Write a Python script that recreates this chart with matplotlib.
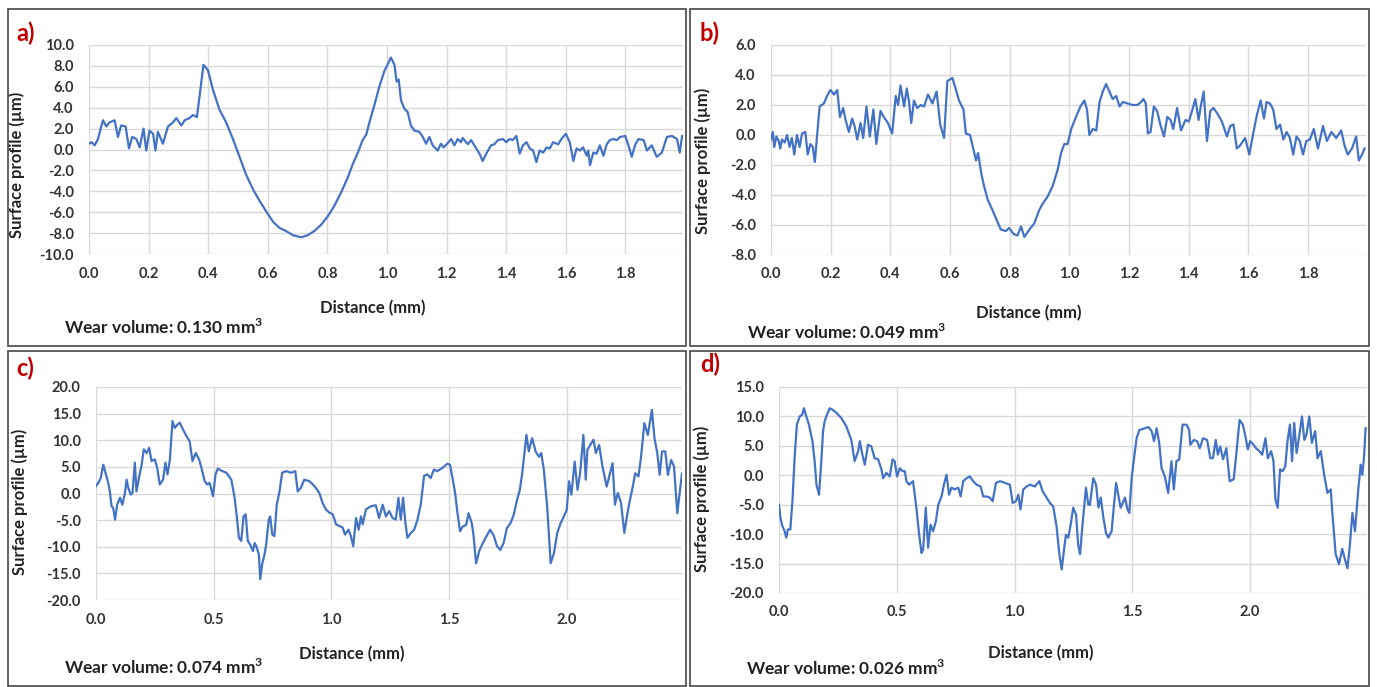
import matplotlib
matplotlib.use("Agg")
import matplotlib.pyplot as plt
from matplotlib.patches import Rectangle

# ---- data ----
# a)
dist_a = [0.000, 0.008, 0.019, 0.030, 0.041, 0.047, 0.058, 0.069, 0.086, 0.097,
          0.108, 0.123, 0.134, 0.145, 0.159, 0.170, 0.183, 0.192, 0.203, 0.215,
          0.223, 0.231, 0.248, 0.265, 0.282, 0.293, 0.310, 0.321, 0.337, 0.349,
          0.362, 0.371, 0.384, 0.399, 0.416, 0.438, 0.460, 0.483, 0.505, 0.527,
          0.550, 0.572, 0.594, 0.617, 0.639, 0.661, 0.684, 0.712, 0.734, 0.756,
          0.779, 0.801, 0.823, 0.846, 0.868, 0.885, 0.902, 0.918, 0.930, 0.941,
          0.958, 0.974, 0.991, 1.013, 1.025, 1.032, 1.039, 1.047, 1.058, 1.069,
          1.080, 1.092, 1.108, 1.120, 1.131, 1.142, 1.153, 1.170, 1.181, 1.190,
          1.200, 1.215, 1.226, 1.237, 1.248, 1.254, 1.271, 1.282, 1.299, 1.310,
          1.321, 1.333, 1.349, 1.360, 1.372, 1.389, 1.400, 1.411, 1.422, 1.434,
          1.445, 1.456, 1.468, 1.479, 1.490, 1.501, 1.512, 1.524, 1.535, 1.546,
          1.557, 1.574, 1.585, 1.600, 1.613, 1.625, 1.636, 1.647, 1.658, 1.670,
          1.675, 1.681, 1.692, 1.703, 1.714, 1.726, 1.737, 1.748, 1.759, 1.771,
          1.782, 1.799, 1.810, 1.821, 1.833, 1.844, 1.861, 1.872, 1.888, 1.905,
          1.922, 1.939, 1.956, 1.973, 1.982, 1.990]
prof_a = [0.55, 0.7, 0.4, 1.0, 2.2, 2.8, 2.2, 2.6, 2.8, 1.2,
          2.3, 2.2, 0.1, 1.2, 1.0, 0.2, 2.0, -0.1, 1.8, 1.5,
          -0.1, 1.7, 0.55, 2.2, 2.6, 3.0, 2.3, 2.8, 3.0, 3.3,
          3.1, 5.1, 8.1, 7.6, 5.7, 3.8, 2.6, 1.0, -0.7, -2.4,
          -3.8, -4.9, -5.9, -6.9, -7.5, -7.8, -8.2, -8.4, -8.2, -7.8,
          -7.2, -6.4, -5.4, -4.1, -2.7, -1.4, -0.3, 0.9, 1.4, 2.6,
          4.3, 6.0, 7.5, 8.8, 8.1, 6.5, 6.7, 4.7, 3.9, 3.6,
          2.3, 1.8, 1.7, 1.2, 0.55, 1.2, 0.4, -0.1, 0.55, 0.2,
          0.5, 1.0, 0.4, 1.0, 0.7, 1.1, 0.5, 0.9, 0.1, -0.4,
          -1.1, -0.4, 0.4, 0.5, 0.9, 1.0, 0.7, 1.0, 0.9, 1.3,
          -0.4, 0.4, 0.7, 0.1, -0.1, -1.2, -0.1, -0.3, 0.2, 0.1,
          0.7, 0.5, 1.0, 1.5, 0.7, -1.1, 0.1, -0.1, 0.2, -0.6,
          -0.1, -1.5, -0.3, -0.4, 0.4, -0.6, 0.5, 0.9, 1.0, 0.9,
          1.2, 1.3, 0.4, -0.7, 0.5, 1.0, 0.9, -0.1, 0.4, -0.7,
          -0.3, 1.2, 1.3, 1.0, -0.3, 1.3]

# b)
dist_b = [0.000, 0.006, 0.011, 0.018, 0.026, 0.031, 0.037, 0.046, 0.054, 0.062,
          0.070, 0.078, 0.087, 0.096, 0.104, 0.115, 0.123, 0.132, 0.140, 0.147,
          0.155, 0.163, 0.177, 0.188, 0.199, 0.211, 0.222, 0.231, 0.242, 0.250,
          0.261, 0.272, 0.280, 0.289, 0.300, 0.309, 0.320, 0.331, 0.343, 0.353,
          0.367, 0.378, 0.392, 0.406, 0.418, 0.426, 0.434, 0.446, 0.455, 0.462,
          0.470, 0.479, 0.490, 0.502, 0.513, 0.526, 0.541, 0.555, 0.567, 0.580,
          0.591, 0.608, 0.620, 0.630, 0.645, 0.653, 0.667, 0.679, 0.687, 0.694,
          0.705, 0.714, 0.726, 0.742, 0.757, 0.770, 0.787, 0.798, 0.813, 0.826,
          0.838, 0.849, 0.866, 0.882, 0.899, 0.910, 0.927, 0.944, 0.961, 0.972,
          0.983, 0.994, 1.006, 1.022, 1.037, 1.050, 1.059, 1.067, 1.078, 1.090,
          1.101, 1.112, 1.123, 1.134, 1.145, 1.157, 1.168, 1.179, 1.196, 1.212,
          1.228, 1.240, 1.248, 1.256, 1.263, 1.272, 1.283, 1.294, 1.306, 1.317,
          1.328, 1.339, 1.348, 1.361, 1.374, 1.389, 1.400, 1.411, 1.422, 1.433,
          1.441, 1.450, 1.461, 1.472, 1.483, 1.497, 1.511, 1.528, 1.539, 1.550,
          1.561, 1.572, 1.589, 1.603, 1.617, 1.628, 1.641, 1.652, 1.661, 1.672,
          1.683, 1.694, 1.706, 1.717, 1.728, 1.739, 1.750, 1.761, 1.772, 1.783,
          1.794, 1.806, 1.819, 1.833, 1.850, 1.863, 1.878, 1.894, 1.911, 1.922,
          1.933, 1.947, 1.961, 1.970, 1.981, 1.989]
prof_b = [-0.3, 0.2, -0.8, -0.1, -0.4, -0.9, -0.3, -0.5, 0.0, -0.8,
          -0.2, -1.3, 0.0, -0.8, 0.1, 0.2, -1.3, -0.6, -0.8, -1.8,
          0.1, 1.9, 2.1, 2.6, 3.0, 2.7, 3.0, 1.2, 1.8, 1.0,
          0.2, 1.1, 0.6, -0.3, 0.8, -0.2, 1.9, -0.1, 1.7, -0.6,
          1.6, 1.2, 0.8, 0.1, 2.6, 2.0, 3.3, 1.9, 3.1, 2.3,
          0.8, 2.3, 1.8, 2.0, 1.9, 2.7, 2.1, 2.9, 0.7, -0.2,
          3.6, 3.8, 3.0, 2.3, 1.7, 0.1, 0.0, -1.0, -1.7, -1.2,
          -2.6, -3.4, -4.3, -5.0, -5.7, -6.3, -6.4, -6.2, -6.6, -6.7,
          -6.1, -6.8, -6.3, -5.9, -5.0, -4.6, -4.1, -3.4, -2.3, -1.2,
          -0.6, -0.6, 0.4, 1.2, 1.9, 2.3, 1.7, 0.0, 0.4, 0.3,
          2.2, 2.9, 3.4, 2.9, 2.4, 2.6, 1.9, 2.2, 2.1, 2.0,
          2.0, 2.2, 2.4, 2.1, 0.1, 0.2, 1.9, 1.6, 0.6, -0.1,
          1.2, 1.0, 0.4, 1.8, 0.3, 1.0, 0.9, 1.6, 2.4, 1.0,
          2.0, 2.9, -0.4, 1.6, 1.8, 1.4, 0.9, -0.1, 0.6, 0.7,
          -0.9, -0.7, -0.2, -1.3, 0.2, 1.3, 2.3, 1.1, 2.2, 2.1,
          1.7, 0.4, 0.7, -0.3, 0.2, -0.2, -1.3, -0.1, -0.4, -1.3,
          -0.4, -0.3, 0.4, -0.9, 0.6, -0.4, 0.2, -0.2, 0.3, -0.7,
          -1.3, -0.9, -0.1, -1.7, -1.3, -0.9]

# c)
dist_c = [0.000, 0.010, 0.020, 0.031, 0.042, 0.052, 0.059, 0.066, 0.073, 0.081,
          0.090, 0.102, 0.112, 0.123, 0.130, 0.137, 0.147, 0.155, 0.165, 0.172,
          0.184, 0.194, 0.203, 0.215, 0.226, 0.236, 0.250, 0.260, 0.271, 0.285,
          0.295, 0.304, 0.314, 0.325, 0.335, 0.345, 0.356, 0.370, 0.384, 0.398,
          0.410, 0.424, 0.438, 0.448, 0.462, 0.472, 0.483, 0.497, 0.508, 0.518,
          0.532, 0.554, 0.575, 0.589, 0.599, 0.607, 0.617, 0.627, 0.636, 0.645,
          0.655, 0.667, 0.674, 0.681, 0.692, 0.698, 0.706, 0.716, 0.723, 0.734,
          0.740, 0.749, 0.758, 0.768, 0.780, 0.791, 0.808, 0.829, 0.847, 0.857,
          0.871, 0.885, 0.907, 0.928, 0.949, 0.963, 0.977, 0.992, 1.006, 1.020,
          1.034, 1.048, 1.058, 1.073, 1.083, 1.093, 1.105, 1.116, 1.126, 1.133,
          1.147, 1.168, 1.189, 1.203, 1.218, 1.232, 1.246, 1.260, 1.274, 1.285,
          1.295, 1.305, 1.314, 1.323, 1.338, 1.352, 1.366, 1.380, 1.394, 1.408,
          1.422, 1.436, 1.450, 1.472, 1.493, 1.504, 1.516, 1.526, 1.536, 1.547,
          1.558, 1.573, 1.583, 1.597, 1.604, 1.615, 1.630, 1.644, 1.658, 1.675,
          1.689, 1.704, 1.718, 1.732, 1.746, 1.761, 1.775, 1.789, 1.801, 1.811,
          1.829, 1.839, 1.853, 1.868, 1.882, 1.892, 1.903, 1.917, 1.932, 1.946,
          1.960, 1.974, 1.988, 2.000, 2.010, 2.020, 2.034, 2.046, 2.057, 2.071,
          2.081, 2.088, 2.100, 2.114, 2.124, 2.138, 2.152, 2.170, 2.181, 2.195,
          2.205, 2.217, 2.231, 2.245, 2.256, 2.266, 2.281, 2.291, 2.305, 2.316,
          2.330, 2.345, 2.362, 2.373, 2.385, 2.395, 2.405, 2.419, 2.430, 2.444,
          2.456, 2.470, 2.480, 2.490, 2.497]
prof_c = [1.4, 2.0, 2.9, 5.4, 3.6, 2.0, 0.4, -2.4, -2.7, -4.9,
          -2.1, -0.8, -2.1, 0.1, 2.6, 1.1, -0.2, 0.1, 5.8, 0.4,
          3.3, 5.4, 8.3, 7.6, 8.6, 6.1, 6.4, 4.8, 1.7, 2.6,
          5.8, 3.6, 6.4, 13.6, 12.3, 12.9, 13.3, 12.0, 10.8, 9.8,
          6.1, 7.6, 6.4, 4.8, 2.3, 1.7, 2.0, -0.5, 3.6, 4.7,
          4.3, 3.9, 2.6, -0.8, -4.6, -8.3, -8.9, -4.3, -3.9, -8.9,
          -9.6, -10.8, -9.3, -9.9, -11.4, -16.1, -13.3, -11.4, -9.6, -4.9,
          -4.3, -7.7, -8.0, -2.1, 0.4, 3.9, 4.2, 3.9, 4.2, 0.4,
          1.1, 2.6, 2.3, 1.4, 0.1, -1.8, -3.0, -3.6, -3.9, -5.8,
          -6.1, -6.4, -7.7, -6.8, -8.0, -9.9, -4.6, -6.8, -4.3, -5.8,
          -3.0, -2.4, -2.2, -4.6, -2.1, -4.3, -3.3, -4.6, -4.9, -0.8,
          -4.9, -0.8, -5.2, -8.3, -7.4, -6.8, -4.9, -2.1, 3.3, 3.6,
          2.9, 4.5, 4.2, 4.8, 5.6, 5.4, 2.6, 0.1, -3.7, -7.1,
          -6.2, -5.9, -3.7, -5.6, -7.8, -13.1, -10.6, -9.3, -8.1, -6.8,
          -7.8, -9.9, -10.6, -9.3, -6.5, -5.6, -4.0, -1.2, 0.7, 3.8,
          11.0, 7.9, 10.4, 7.9, 6.9, 7.6, 4.4, -2.4, -13.1, -11.2,
          -7.4, -5.6, -4.3, -3.1, 2.3, -0.2, 6.0, 0.7, 3.8, 11.0,
          2.6, 8.2, 9.1, 10.1, 7.6, 9.1, 5.1, 1.3, 3.2, 5.7,
          -2.1, 0.1, -1.8, -7.4, -4.3, -1.8, 1.3, 3.8, 3.2, 6.9,
          13.2, 11.0, 15.7, 10.4, 7.6, 3.5, 7.9, 7.9, 3.5, 6.3,
          5.1, -3.7, 0.1, 3.8, 1.3]

# d)
dist_d = [0.000, 0.006, 0.014, 0.024, 0.031, 0.038, 0.048, 0.057, 0.067, 0.076,
          0.088, 0.099, 0.106, 0.116, 0.127, 0.142, 0.152, 0.159, 0.170, 0.177,
          0.187, 0.194, 0.201, 0.215, 0.229, 0.244, 0.265, 0.286, 0.307, 0.321,
          0.336, 0.343, 0.354, 0.364, 0.378, 0.392, 0.406, 0.421, 0.435, 0.442,
          0.456, 0.470, 0.482, 0.491, 0.501, 0.513, 0.524, 0.534, 0.541, 0.552,
          0.569, 0.584, 0.595, 0.605, 0.612, 0.623, 0.633, 0.643, 0.654, 0.666,
          0.676, 0.690, 0.700, 0.711, 0.722, 0.732, 0.746, 0.761, 0.771, 0.782,
          0.796, 0.810, 0.824, 0.839, 0.856, 0.867, 0.881, 0.895, 0.907, 0.921,
          0.938, 0.959, 0.980, 0.992, 1.006, 1.016, 1.025, 1.037, 1.051, 1.065,
          1.086, 1.105, 1.119, 1.136, 1.150, 1.164, 1.178, 1.190, 1.200, 1.210,
          1.218, 1.228, 1.238, 1.249, 1.261, 1.270, 1.278, 1.289, 1.303, 1.313,
          1.320, 1.334, 1.346, 1.356, 1.366, 1.377, 1.388, 1.398, 1.412, 1.422,
          1.431, 1.440, 1.450, 1.459, 1.469, 1.479, 1.487, 1.497, 1.507, 1.518,
          1.530, 1.546, 1.568, 1.582, 1.592, 1.603, 1.614, 1.624, 1.638, 1.652,
          1.666, 1.676, 1.687, 1.699, 1.713, 1.730, 1.741, 1.746, 1.761, 1.775,
          1.786, 1.800, 1.817, 1.831, 1.842, 1.854, 1.863, 1.873, 1.885, 1.899,
          1.913, 1.930, 1.941, 1.955, 1.969, 1.980, 1.990, 2.000, 2.014, 2.025,
          2.039, 2.051, 2.065, 2.075, 2.089, 2.099, 2.107, 2.117, 2.127, 2.138,
          2.149, 2.159, 2.169, 2.178, 2.187, 2.197, 2.208, 2.220, 2.230, 2.239,
          2.251, 2.262, 2.276, 2.286, 2.300, 2.314, 2.328, 2.342, 2.349, 2.363,
          2.377, 2.391, 2.403, 2.413, 2.423, 2.434, 2.445, 2.459, 2.469, 2.476,
          2.483, 2.490]
prof_d = [-5.0, -7.2, -8.6, -9.5, -10.6, -9.2, -9.2, -4.4, 3.5, 8.6,
          10.0, 10.3, 11.4, 10.0, 8.6, 5.8, 2.1, -1.6, -3.3, 0.7,
          7.5, 9.2, 10.0, 11.4, 11.1, 10.6, 9.7, 8.3, 6.0, 2.4,
          4.1, 5.8, 3.5, 1.8, 5.2, 4.9, 2.9, 2.7, 1.0, -0.5,
          0.4, -0.2, 2.7, 2.4, -0.2, 1.2, 0.7, 0.7, -1.0, -1.6,
          -1.0, -5.8, -10.1, -13.2, -12.6, -5.5, -12.3, -8.4, -9.5, -7.8,
          -5.0, -3.6, -1.6, 0.1, -3.3, -2.1, -2.4, -2.1, -3.6, -1.0,
          -0.5, -0.2, -1.0, -1.6, -1.9, -3.6, -3.6, -3.8, -4.4, -1.3,
          -1.0, -1.3, -1.6, -4.7, -4.4, -3.3, -5.8, -2.4, -1.9, -1.6,
          -1.9, -1.0, -2.7, -3.8, -4.7, -5.3, -8.6, -13.4, -16.0, -12.6,
          -10.1, -10.6, -8.4, -5.5, -6.7, -11.8, -13.4, -8.1, -2.1, -5.0,
          -5.0, -0.5, -1.6, -5.5, -3.8, -7.2, -9.8, -10.6, -9.5, -5.0,
          -1.3, -3.3, -5.5, -4.7, -3.8, -5.8, -6.4, -0.5, 2.9, 6.3,
          7.7, 7.9, 8.2, 7.5, 5.8, 8.0, 5.5, 1.2, -0.2, -3.0,
          2.4, -2.4, 2.4, 2.7, 8.6, 8.6, 7.7, 5.2, 6.0, 5.8,
          4.6, 6.3, 6.0, 2.9, 2.9, 6.0, 3.5, 4.9, 2.7, 4.6,
          -1.0, -0.7, 3.5, 9.4, 8.6, 6.6, 4.4, 5.8, 5.2, 4.6,
          4.1, 3.5, 6.3, 2.9, 4.1, 2.4, -4.1, -5.5, 1.0, 0.7,
          1.5, 6.0, 8.6, 2.4, 8.9, 3.8, 6.6, 10.0, 6.0, 6.9,
          10.0, 5.5, 7.5, 2.9, 4.1, 0.1, -3.0, -2.4, -6.4, -13.4,
          -15.1, -12.5, -14.4, -15.8, -12.0, -6.4, -9.5, -2.4, 1.8, 0.1,
          2.9, 8.0]

labels = ["a)", "b)", "c)", "d)"]
wear_volumes = ["0.130", "0.049", "0.074", "0.026"]
y_ranges = [(-10, 10, 2), (-8, 6, 2), (-20, 20, 5), (-20, 15, 5)]
x_ticks = [[0.0, 0.2, 0.4, 0.6, 0.8, 1.0, 1.2, 1.4, 1.6, 1.8],
           [0.0, 0.2, 0.4, 0.6, 0.8, 1.0, 1.2, 1.4, 1.6, 1.8],
           [0.0, 0.5, 1.0, 1.5, 2.0],
           [0.0, 0.5, 1.0, 1.5, 2.0]]
x_max = [1.993, 1.994, 2.49, 2.496]

plt.rcParams['font.family'] = ['Lato', 'DejaVu Sans']
plt.rcParams['mathtext.fontset'] = 'custom'
plt.rcParams['mathtext.rm'] = 'Lato'
plt.rcParams['mathtext.bf'] = 'Lato:bold'

W, H = 1377, 687
fig = plt.figure(figsize=(W / 100, H / 100), dpi=100)

def px_box(l, t, r, b):
    return [l / W, 1 - b / H, (r - l) / W, (b - t) / H]

# panel frames (pixels: left, top, right, bottom)
frames = [(8, 9, 686, 346), (690, 9, 1369, 346),
          (8, 351, 686, 686), (690, 351, 1369, 686)]
# plot areas
areas = [(89, 45, 683, 254), (771, 45, 1366, 255),
         (96, 387, 682, 600), (779, 387, 1367, 593)]
xlabel_pos = [(0.478, -0.22), (0.434, -0.238), (0.437, -0.216), (0.446, -0.252)]
ylabel_pos = [(-0.108, 0.426), (-0.101, 0.448), (-0.116, 0.46), (-0.117, 0.456)]
label_pos = [(16, 33), (700, 33), (16, 368), (700, 364)]
wear_pos = [(64, 327), (747, 332), (64, 667), (746, 668)]

data = [(dist_a, prof_a), (dist_b, prof_b), (dist_c, prof_c), (dist_d, prof_d)]

for i in range(4):
    l, t, r, b = frames[i]
    fig.patches.append(Rectangle((l / W, 1 - b / H), (r - l) / W, (b - t) / H,
                                 transform=fig.transFigure, fill=False,
                                 edgecolor='#555555', linewidth=1.3))

    ax = fig.add_axes(px_box(*areas[i]))
    x, y = data[i]
    ax.plot(x, y, color='#4472C4', linewidth=1.6)

    lo, hi, step = y_ranges[i]
    yt = list(range(lo, hi + 1, step))
    ax.set_ylim(lo, hi)
    ax.set_yticks(yt)
    ax.set_yticklabels([f"{v:.1f}" for v in yt])
    ax.set_xlim(0, x_max[i])
    ax.set_xticks(x_ticks[i])
    ax.set_xticklabels([f"{v:.1f}" for v in x_ticks[i]])

    ax.grid(True, color='#D9D9D9', linewidth=1.0)
    ax.set_axisbelow(True)
    for s in ax.spines.values():
        s.set_visible(False)
    ax.tick_params(length=0, labelsize=10.5, labelcolor='#333333')
    ax.tick_params(axis='y', pad=11)
    ax.tick_params(axis='x', pad=9)
    for lab in ax.get_xticklabels() + ax.get_yticklabels():
        lab.set_fontweight('bold')

    ax.set_xlabel("Distance (mm)", fontsize=12, fontweight='bold', color='#222222')
    ax.xaxis.set_label_coords(*xlabel_pos[i])
    ax.set_ylabel("Surface profile (µm)", fontsize=12, fontweight='bold', color='#222222')
    ax.yaxis.set_label_coords(*ylabel_pos[i])

    lx, ly = label_pos[i]
    fig.text(lx / W, 1 - ly / H, labels[i], color='#C00000', fontsize=17,
             fontweight='bold', va='center', ha='left')
    wx, wy = wear_pos[i]
    fig.text(wx / W, 1 - wy / H, f"Wear volume: {wear_volumes[i]} mm" + r"$^{\mathbf{3}}$",
             fontsize=12.5, fontweight='bold', color='#222222', va='center', ha='left')

fig.savefig("out.png", dpi=100)
